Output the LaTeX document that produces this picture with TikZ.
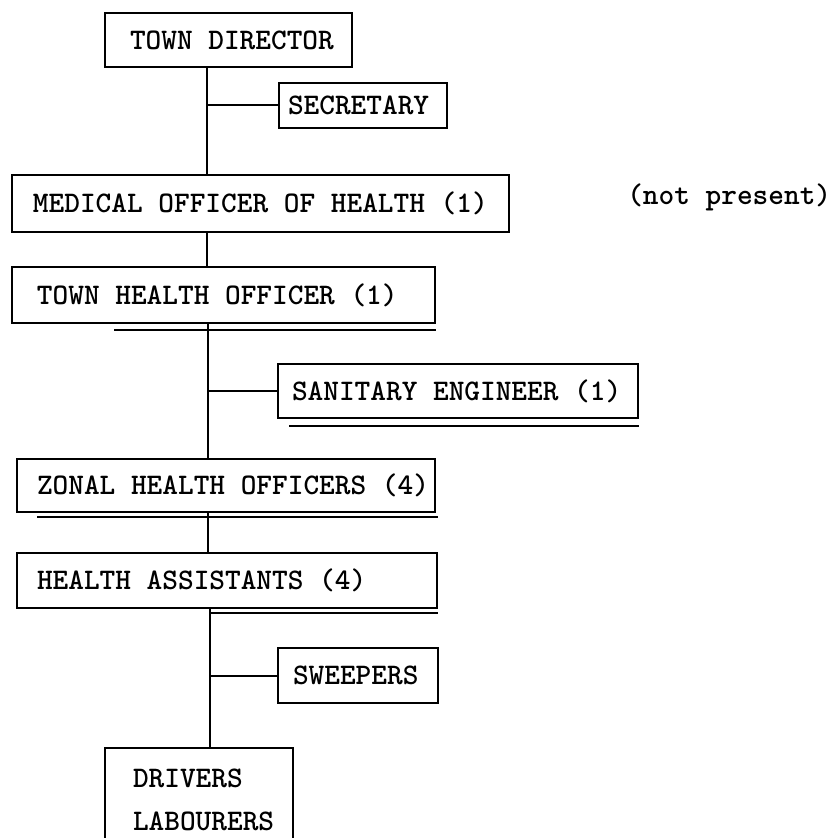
\documentclass[tikz,border=0pt]{standalone}
\usetikzlibrary{calc}
\newlength\pxu \setlength\pxu{0.75pt}
\newcommand\bx[3]{\makebox[#1\pxu][l]{\hspace*{#2\pxu}#3}}
\begin{document}
\begin{tikzpicture}[x=0.75pt,y=-0.75pt,
  box/.style={draw, line width=1.3pt, inner sep=0pt, font=\fontsize{22.4}{27}\selectfont\ttfamily\bfseries},
  lbl/.style={inner sep=0pt, font=\fontsize{22.4}{27}\selectfont\ttfamily\bfseries},
  link/.style={line width=1.5pt},
  uline/.style={line width=1.3pt}]
\useasboundingbox (0,0) rectangle (839,838);

\node[box, minimum height=54\pxu] (td)  at (228.5,40)  {\bx{247}{25}{TOWN DIRECTOR}};
\node[box, minimum height=45\pxu] (sec) at (363,105.5) {\bx{168}{9}{SECRETARY}};
\node[box, minimum height=57\pxu] (moh) at (260.5,203.5) {\bx{497}{21}{MEDICAL OFFICER OF HEALTH (1)}};
\node[lbl, anchor=west] (np) at (627,197) {(not present)};
\node[box, minimum height=56\pxu] (tho) at (223.5,295) {\bx{423}{25}{TOWN HEALTH OFFICER (1)}};
\node[box, minimum height=54\pxu] (san) at (458,391) {\bx{360}{14}{SANITARY ENGINEER (1)}};
\node[box, minimum height=53\pxu] (zho) at (226,485.5) {\bx{418}{20}{ZONAL HEALTH OFFICERS (4)}};
\node[box, minimum height=55\pxu] (ha)  at (227,580.5) {\bx{420}{20}{HEALTH ASSISTANTS (4)}};
\node[box, minimum height=55\pxu] (sw)  at (358,675.5) {\bx{160}{15}{SWEEPERS}};
\node[box, draw=none, anchor=north] (dr) at (199,748)
  {\bx{186}{27}{\vbox{\baselineskip=32pt\lineskip=0pt\hbox{\rule{0pt}{29pt}DRIVERS}\hbox{LABOURERS}}}};

\coordinate (t1) at (207,0);
\coordinate (t2) at (208,0);
\coordinate (t3) at (210,0);
\coordinate (bot) at (0,838);

\draw[line width=1.3pt] (dr.north west |- bot) -- (dr.north west) -- (dr.north east) -- (dr.north east |- bot);

\draw[link] (td.south -| t1) -- (moh.north -| t1);
\draw[link] (t1 |- sec.west) -- (sec.west);
\draw[link] (moh.south -| t1) -- (tho.north -| t1);
\draw[link] (tho.south -| t2) -- (zho.north -| t2);
\draw[link] (t2 |- san.west) -- (san.west);
\draw[link] (zho.south -| t2) -- (ha.north -| t2);
\draw[link] (ha.south -| t3) -- (dr.north -| t3);
\draw[link] (t3 |- sw.west) -- (sw.west);

\draw[uline] ($(tho.south west)+(103,6)$) -- ($(tho.south east)+(0,6)$);
\draw[uline] ($(san.south west)+(12,7)$) -- ($(san.south east)+(0,7)$);
\draw[uline] ($(zho.south west)+(21,4)$) -- ($(zho.south east)+(2,4)$);
\draw[uline] ($(ha.south west)+(193,4)$) -- ($(ha.south east)+(0,4)$);
\end{tikzpicture}
\end{document}
